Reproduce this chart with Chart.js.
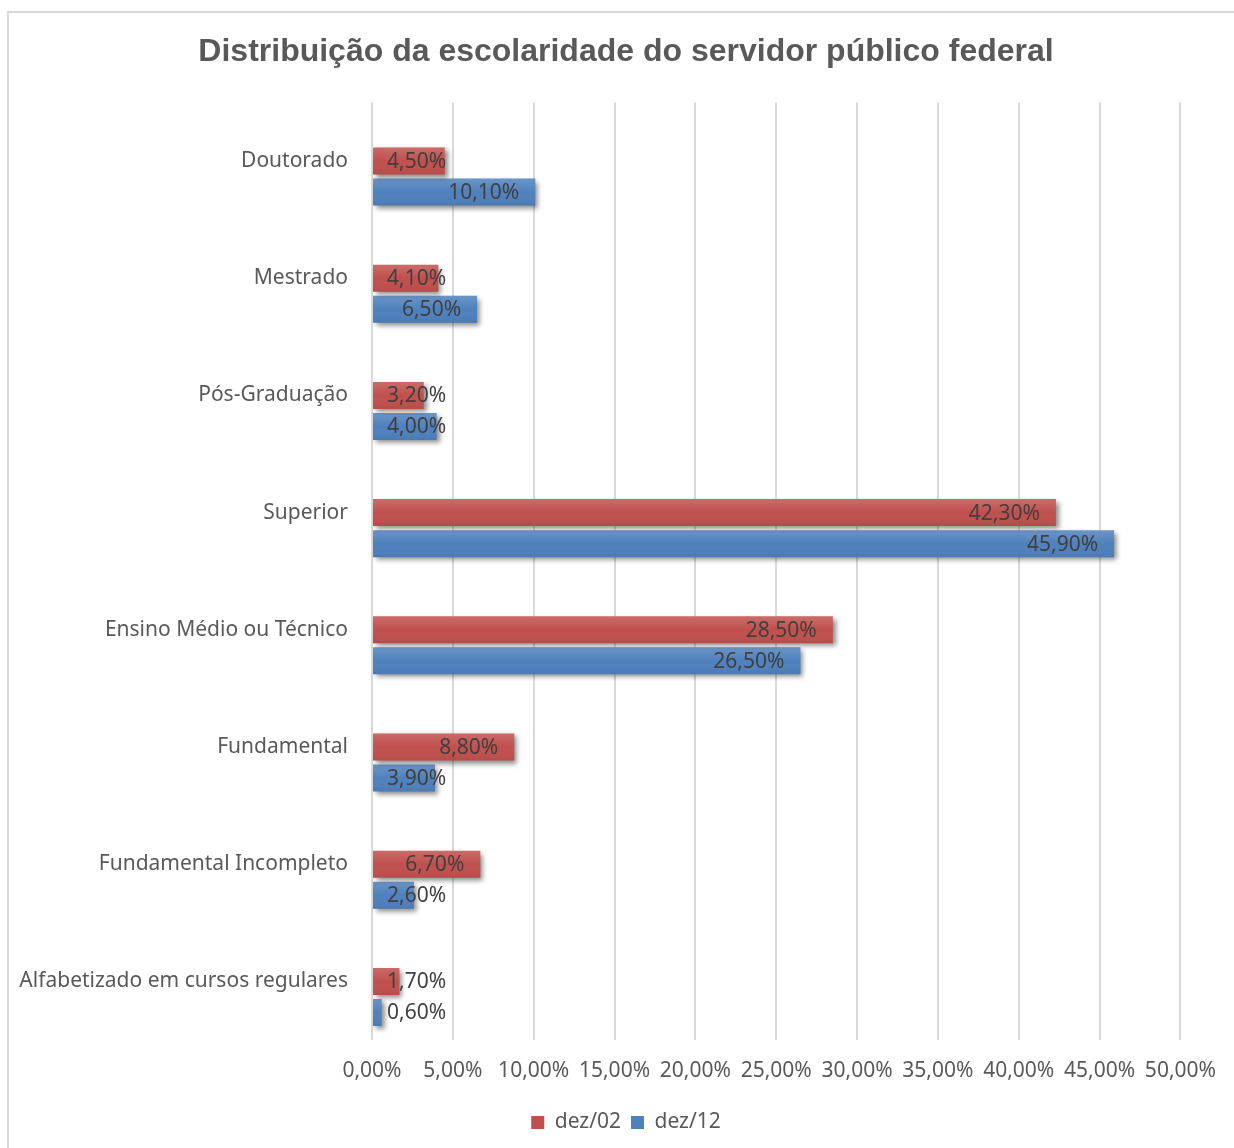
<!DOCTYPE html>
<html>
<head>
<meta charset="utf-8">
<script src="https://cdn.jsdelivr.net/npm/chart.js@4.4.0/dist/chart.umd.min.js"></script>
<style>
  body { margin: 0; background: #ffffff; overflow: hidden; }
  #frame { position: absolute; left: 7px; top: 11px; width: 1400px; height: 1300px; border: 2px solid #d9d9d9; }
  #wrap { position: absolute; left: 0; top: 0; width: 1234px; height: 1148px; }
</style>
</head>
<body>
<div id="frame"></div>
<div id="wrap"><canvas id="chart"></canvas></div>
<script>
var categories = ["Doutorado", "Mestrado", "Pós-Graduação", "Superior", "Ensino Médio ou Técnico", "Fundamental", "Fundamental Incompleto", "Alfabetizado em cursos regulares"];
var dez02 = [4.5, 4.1, 3.2, 42.3, 28.5, 8.8, 6.7, 1.7];
var dez12 = [10.1, 6.5, 4.0, 45.9, 26.5, 3.9, 2.6, 0.6];
var xTicks = [0, 5, 10, 15, 20, 25, 30, 35, 40, 45, 50];

var TEXT = "#595959";
var FONT = "'Noto Sans', sans-serif";

function pct(v){
    return v.toFixed(2).replace(".", ",") + "%";
}

// shadow under the bars, a soft shine on top and the value labels
var barLook = {
    id: "barLook",
    beforeDatasetsDraw: function(chart){
        var ctx = chart.ctx;
        ctx.save();
        ctx.shadowColor = "rgba(0,0,0,0.45)";
        ctx.shadowBlur = 5;
        ctx.shadowOffsetX = 3;
        ctx.shadowOffsetY = 3;
    },
    afterDatasetsDraw: function(chart){
        var ctx = chart.ctx;
        ctx.restore();
        var x0 = chart.scales.x.getPixelForValue(0);
        for (var d = 1; d < chart.data.datasets.length; d++){
            var meta = chart.getDatasetMeta(d);
            meta.data.forEach(function(bar){
                var top = bar.y - bar.height / 2;
                var g = ctx.createLinearGradient(0, top, 0, top + bar.height);
                g.addColorStop(0, "rgba(255,255,255,0.16)");
                g.addColorStop(0.5, "rgba(255,255,255,0.0)");
                g.addColorStop(1, "rgba(0,0,0,0.06)");
                ctx.fillStyle = g;
                ctx.fillRect(bar.base, top, bar.x - bar.base, bar.height);
            });
        }
        ctx.font = "21px " + FONT;
        ctx.fillStyle = "#404040";
        ctx.textBaseline = "middle";
        ctx.textAlign = "left";
        for (var d = 1; d < chart.data.datasets.length; d++){
            var meta = chart.getDatasetMeta(d);
            var vals = chart.data.datasets[d].data;
            meta.data.forEach(function(bar, i){
                var txt = pct(vals[i]);
                var w = ctx.measureText(txt).width;
                var x = Math.max(bar.x - 16 - w, x0 + 15);
                ctx.fillText(txt, x, bar.y + 1);
            });
        }
    }
};

function draw_chart(){
    new Chart("chart", {
        type: "bar",
        data: {
            labels: categories,
            datasets: [
                {label: "", data: categories.map(function(){ return null; })},
                {label: "dez/02", data: dez02, backgroundColor: "#c0504d"},
                {label: "dez/12", data: dez12, backgroundColor: "#4f81bd"}
            ]
        },
        options: {
            indexAxis: "y",
            responsive: true,
            maintainAspectRatio: false,
            animation: false,
            datasets: {bar: {categoryPercentage: 0.795, barPercentage: 0.87}},
            layout: {padding: {left: 18, right: 0, top: 0, bottom: 5}},
            plugins: {
                title: {
                    display: true,
                    text: "Distribuição da escolaridade do servidor público federal",
                    color: TEXT,
                    font: {family: "'Liberation Sans', Arial, sans-serif", size: 32, weight: "bold"},
                    padding: {top: 33, bottom: 31}
                },
                legend: {
                    position: "bottom",
                    labels: {
                        filter: function(item){ return item.datasetIndex > 0; },
                        boxWidth: 13,
                        boxHeight: 13,
                        padding: 10,
                        color: TEXT,
                        font: {family: FONT, size: 21}
                    }
                },
                tooltip: {enabled: false}
            },
            scales: {
                x: {
                    min: 0,
                    max: 50,
                    afterBuildTicks: function(s){ s.ticks = xTicks.map(function(v){ return {value: v}; }); },
                    afterFit: function(s){ s.height = 62; },
                    grid: {color: "#d9d9d9", lineWidth: 2, drawTicks: false},
                    border: {display: false},
                    ticks: {
                        padding: 18,
                        autoSkip: false,
                        maxRotation: 0,
                        color: TEXT,
                        font: {family: FONT, size: 21},
                        callback: function(v){ return pct(v); }
                    }
                },
                y: {
                    afterFit: function(s){ s.width = 354; },
                    grid: {display: false, drawTicks: false},
                    border: {display: false},
                    ticks: {padding: 24, color: TEXT, font: {family: FONT, size: 21}}
                },
                // empty space on the right side of the plot
                yRight: {
                    position: "right",
                    type: "category",
                    labels: categories,
                    afterFit: function(s){ s.width = 53; },
                    grid: {display: false, drawTicks: false},
                    border: {display: false},
                    ticks: {display: false}
                }
            }
        },
        plugins: [barLook]
    });
}

function main(){
    draw_chart();
}

main();
</script>
</body>
</html>
